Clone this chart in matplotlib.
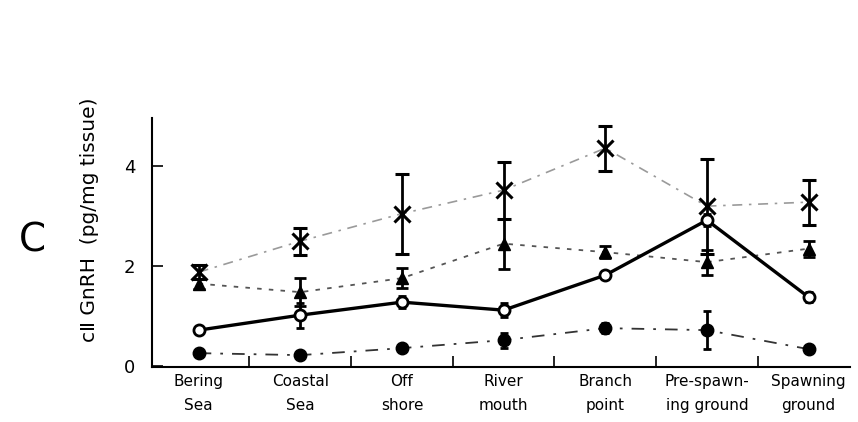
import numpy as np
import matplotlib
matplotlib.use("Agg")
import matplotlib.pyplot as plt

# Migration sites along the route
sites = ["Bering\nSea", "Coastal\nSea", "Off\nshore", "River\nmouth",
         "Branch\npoint", "Pre-spawn-\ning ground", "Spawning\nground"]

# cII GnRH (pg/mg tissue), four groups, mean and error
cross_mean = [1.88, 2.50, 3.05, 3.52, 4.36, 3.20, 3.28]
cross_err = [0.14, 0.27, 0.80, 0.57, 0.45, 0.95, 0.45]
tri_mean = [1.65, 1.48, 1.76, 2.45, 2.28, 2.08, 2.35]
tri_err = [0.10, 0.28, 0.20, 0.50, 0.12, 0.25, 0.16]
open_mean = [0.72, 1.02, 1.28, 1.12, 1.82, 2.92, 1.38]
open_err = [0.05, 0.25, 0.12, 0.14, 0.06, 0.12, 0.10]
fill_mean = [0.26, 0.22, 0.36, 0.52, 0.76, 0.72, 0.34]
fill_err = [0.04, 0.04, 0.04, 0.15, 0.10, 0.38, 0.04]

x = np.arange(len(sites))

fig = plt.figure(figsize=(8.58, 4.22), dpi=100)
ax = fig.add_axes([0.177, 0.130, 0.814, 0.590])

ax.errorbar(x, cross_mean, yerr=cross_err, color="#9a9a9a", lw=1.2,
            ls=(0, (6, 4, 1.5, 4)), marker="x", ms=12, mew=2.2, mec="black",
            ecolor="black", elinewidth=2, capsize=5, capthick=2)
ax.errorbar(x, tri_mean, yerr=tri_err, color="#555555", lw=1.3,
            ls=(0, (2.5, 4)), marker="^", ms=9, mfc="black", mec="black",
            ecolor="black", elinewidth=2, capsize=4, capthick=2)
ax.errorbar(x, open_mean, yerr=open_err, color="black", lw=2.4, ls="-",
            marker="o", ms=8, mfc="white", mec="black", mew=2,
            ecolor="black", elinewidth=2, capsize=3, capthick=2)
ax.errorbar(x, fill_mean, yerr=fill_err, color="#333333", lw=1.3,
            ls=(0, (7, 5, 1.5, 5)), marker="o", ms=9, mfc="black", mec="black",
            ecolor="black", elinewidth=2, capsize=3, capthick=2)

ax.set_xlim(-0.46, 6.41)
ax.set_ylim(-0.02, 4.96)

ax.set_xticks(x)
ax.set_xticklabels(sites, fontsize=11, linespacing=1.75)
ax.tick_params(axis="x", length=0, pad=5)
ax.set_xticks(x[:-1] + 0.5, minor=True)
ax.tick_params(axis="x", which="minor", direction="in", length=8, width=1.2)

ax.set_yticks([0, 2, 4])
ax.tick_params(axis="y", direction="in", length=8, width=1.2, labelsize=13, pad=12)

for s in ["top", "right"]:
    ax.spines[s].set_visible(False)
for s in ["left", "bottom"]:
    ax.spines[s].set_linewidth(1.5)

ax.set_ylabel("cⅡ GnRH  (pg/mg tissue)", fontsize=14.5)
ax.yaxis.set_label_coords(-0.075, 0.59)
fig.text(0.038, 0.43, "C", fontsize=28, ha="center", va="center")

fig.savefig("out.png", dpi=100)
